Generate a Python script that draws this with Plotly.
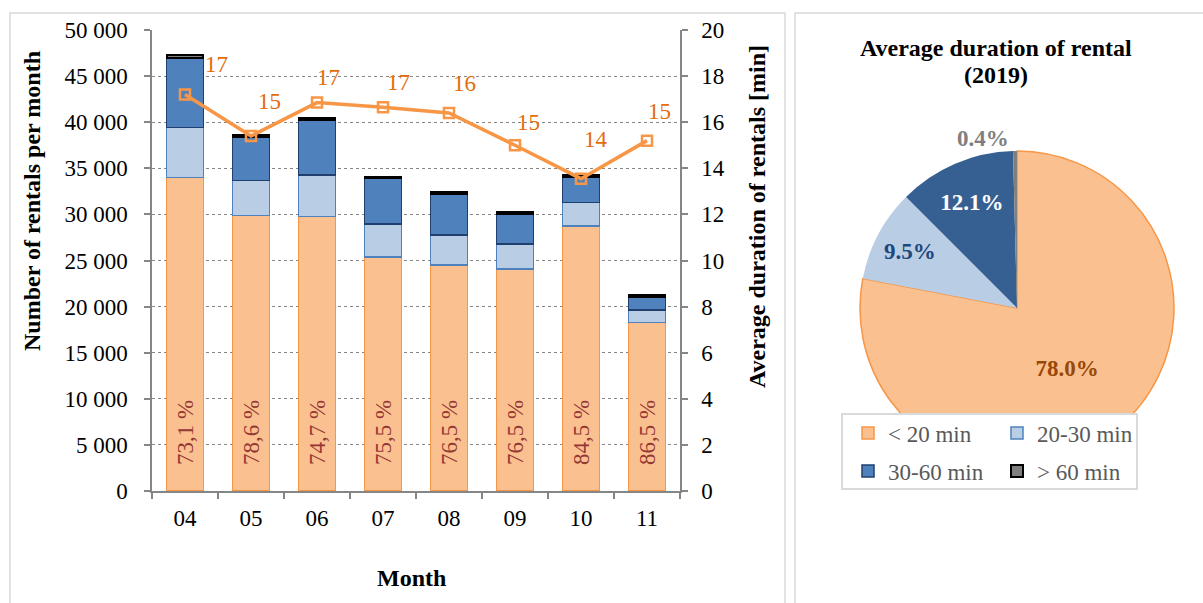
import plotly.graph_objects as go

W, H = 1203, 603
FONT = "Liberation Serif"

# ---------------- data ----------------
months = ["04", "05", "06", "07", "08", "09", "10", "11"]
under_20 = [34000, 29900, 29750, 25400, 24500, 24100, 28750, 18300]
min_20_30 = [5450, 3800, 4500, 3560, 3270, 2670, 2530, 1330]
min_30_60 = [7550, 4700, 5950, 4940, 4430, 3250, 2830, 1370]
over_60 = [260, 250, 290, 200, 230, 270, 200, 260]
share_under_20 = ["73,1 %", "78,6 %", "74,7 %", "75,5 %", "76,5 %", "76,5 %", "84,5 %", "86,5 %"]
avg_duration = [17.2, 15.4, 16.85, 16.65, 16.4, 15.0, 13.55, 15.2]

pie_labels = ["< 20 min", "20-30 min", "30-60 min", "> 60 min"]
pie_values = [78.0, 9.5, 12.1, 0.4]

# label offsets (style only, pixels)
line_label_shift = [(31, 30), (18, 35), (11, 25), (15, 25), (15, 29), (13, 23), (15, 39), (12, 29)]


def px(x):
    return x / W


def py(y):
    return 1 - y / H


fig = go.Figure()

seg_styles = [
    ("< 20 min", under_20, "#FAC090", "#F79646", 1.5, "legend"),
    ("20-30 min", min_20_30, "#B9CDE5", "#4F81BD", 1.5, "legend"),
    ("30-60 min", min_30_60, "#4F81BD", "#1F3F6E", 1.5, "legend2"),
    ("> 60 min", over_60, "#7F7F7F", "#000000", 2, "legend2"),
]
for i, (name, vals, fill, line, lw, leg) in enumerate(seg_styles):
    kw = {}
    if i == 0:
        kw = dict(
            text=["\u00a0\u00a0\u00a0\u00a0" + s for s in share_under_20],
            textposition="inside",
            insidetextanchor="start",
            textangle=-90,
            textfont=dict(family=FONT, size=23, color="#953735"),
        )
    fig.add_trace(go.Bar(
        x=months, y=vals, name=name,
        marker=dict(color=fill, line=dict(color=line, width=lw)),
        legend=leg, showlegend=True, hoverinfo="skip",
        xaxis="x", yaxis="y", **kw))

fig.add_trace(go.Scatter(
    x=months, y=avg_duration, mode="lines+markers", yaxis="y2", xaxis="x",
    line=dict(color="#F79646", width=3.5),
    marker=dict(symbol="square-open", size=10, color="#F79646", line=dict(width=2.5, color="#F79646")),
    showlegend=False, hoverinfo="skip"))

for idx, (v, (dx, dy)) in enumerate(zip(avg_duration, line_label_shift)):
    fig.add_annotation(x=idx, y=v, xref="x", yref="y2", text=f"{v:.0f}",
                       showarrow=False, xshift=dx, yshift=dy,
                       xanchor="center", yanchor="middle",
                       font=dict(family=FONT, size=23, color="#E46C0A"))

fig.add_trace(go.Pie(
    labels=pie_labels, values=pie_values, sort=False, direction="clockwise", rotation=0,
    domain=dict(x=[px(1017 - 157), px(1017 + 157)], y=[py(308 + 157), py(308 - 157)]),
    marker=dict(colors=["#FAC090", "#B9CDE5", "#376092", "#7F7F7F"],
                line=dict(color=["#F79646", "#B9CDE5", "#376092", "#7F7F7F"], width=[1.5, 0, 0, 0])),
    texttemplate="%{percent:.1%}",
    textposition=["inside", "inside", "inside", "outside"],
    insidetextorientation="horizontal",
    textfont=dict(family=FONT, size=23, color=["#984807", "#1F497D", "#FFFFFF", "#7F7F7F"], weight="bold"),
    showlegend=False, hoverinfo="skip"))

axis_line = "#868686"
tick_font = dict(family=FONT, size=23, color="black")
fig.update_layout(
    template="none",
    width=W, height=H,
    margin=dict(l=0, r=0, t=0, b=0, autoexpand=False),
    paper_bgcolor="white", plot_bgcolor="rgba(0,0,0,0)",
    separators=". ",
    barmode="stack", bargap=0.44,
    font=dict(family=FONT, size=23, color="black"),
    xaxis=dict(domain=[px(152), px(680)], type="category", range=[-0.5, 7.5], showline=True,
               linecolor=axis_line, linewidth=1.5, ticks="outside", tickson="boundaries", ticklen=6,
               tickcolor=axis_line, tickwidth=1.5, tickfont=tick_font, automargin=False,
               ticklabelstandoff=6, showgrid=False, zeroline=False, anchor="y"),
    yaxis=dict(domain=[py(491), py(30)], range=[0, 50000], dtick=5000, tickformat=",d",
               showline=True, linecolor=axis_line, linewidth=1.5, ticks="outside", ticklen=6,
               tickcolor=axis_line, tickwidth=1.5, showgrid=True, gridcolor=axis_line,
               griddash="dot", gridwidth=1.3, zeroline=False, automargin=False,
               tickfont=tick_font, ticklabelstandoff=12, anchor="x"),
    yaxis2=dict(overlaying="y", side="right", anchor="x", range=[0, 20], dtick=2,
                showline=True, linecolor=axis_line, linewidth=1.5, ticks="outside", ticklen=6,
                tickcolor=axis_line, tickwidth=1.5, showgrid=False, zeroline=False, automargin=False,
                tickfont=tick_font, ticklabelstandoff=9),
    legend=dict(orientation="h", x=px(848), xanchor="left", y=py(433), yanchor="middle",
                bgcolor="rgba(0,0,0,0)", entrywidth=104, traceorder="normal",
                font=dict(family=FONT, size=23, color="#595959")),
    legend2=dict(orientation="h", x=px(848), xanchor="left", y=py(471), yanchor="middle",
                 bgcolor="rgba(0,0,0,0)", entrywidth=104, traceorder="normal",
                 font=dict(family=FONT, size=23, color="#595959")),
    shapes=[
        dict(type="rect", xref="paper", yref="paper", x0=px(10), x1=px(785), y0=-0.1, y1=py(13),
             line=dict(color="#D9D9D9", width=1.5), fillcolor="rgba(0,0,0,0)", layer="below"),
        dict(type="rect", xref="paper", yref="paper", x0=px(795), x1=px(1215), y0=-0.1, y1=py(13),
             line=dict(color="#D9D9D9", width=1.5), fillcolor="rgba(0,0,0,0)", layer="below"),
        dict(type="rect", xref="paper", yref="paper", x0=px(842), x1=px(1137), y0=py(489), y1=py(414),
             line=dict(color="#D9D9D9", width=2), fillcolor="white", layer="above"),
    ],
)

title_font = dict(family=FONT, size=24, color="black")
fig.add_annotation(xref="paper", yref="paper", x=px(32), y=py(201), text="<b>Number of rentals per month</b>",
                   textangle=-90, showarrow=False, xanchor="center", yanchor="middle", font=title_font)
fig.add_annotation(xref="paper", yref="paper", x=px(757), y=py(217),
                   text="<b>Average duration of rentals [min]</b>",
                   textangle=-90, showarrow=False, xanchor="center", yanchor="middle", font=title_font)
fig.add_annotation(xref="paper", yref="paper", x=px(411), y=py(578), text="<b>Month</b>",
                   showarrow=False, xanchor="center", yanchor="middle", font=title_font)
fig.add_annotation(xref="paper", yref="paper", x=px(996), y=py(48),
                   text="<b>Average duration of rental</b>",
                   showarrow=False, xanchor="center", yanchor="middle", font=title_font)
fig.add_annotation(xref="paper", yref="paper", x=px(996), y=py(75),
                   text="<b>(2019)</b>",
                   showarrow=False, xanchor="center", yanchor="middle", font=title_font)

fig.write_html("out.html")
